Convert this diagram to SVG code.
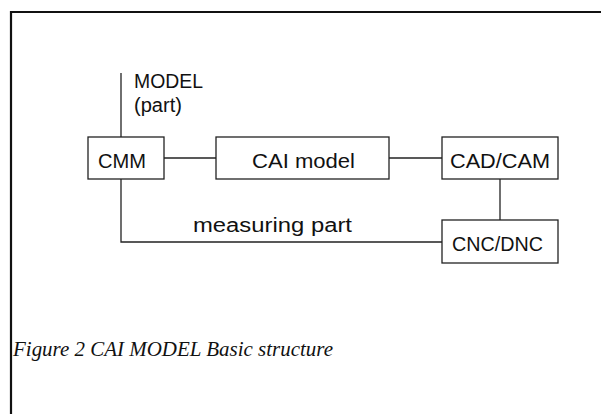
<svg xmlns="http://www.w3.org/2000/svg" width="601" height="414" viewBox="0 0 601 414">
<style>
.box{fill:#fff;stroke:#222;stroke-width:1.3}
.ln{fill:none;stroke:#222;stroke-width:1.3}
.t{font-family:"Liberation Sans",Arial,sans-serif;font-size:20px;fill:#111}
.cap{font-family:"Liberation Serif","Times New Roman",serif;font-style:italic;font-size:21px;fill:#111}
</style>
<rect width="601" height="414" fill="#fff"/>
<g id="frame">
<line x1="11" y1="12" x2="601" y2="12" stroke="#111" stroke-width="2.2"/>
<line x1="11" y1="11" x2="11" y2="414" stroke="#111" stroke-width="2.2"/>
</g>
<g id="connectors">
<line class="ln" x1="121" y1="73" x2="121" y2="137"/>
<line class="ln" x1="164" y1="158" x2="216" y2="158"/>
<line class="ln" x1="389" y1="158" x2="442" y2="158"/>
<line class="ln" x1="500" y1="179" x2="500" y2="220"/>
<polyline class="ln" points="121,179 121,242 442,242"/>
</g>
<g id="model-label">
<text class="t" x="134" y="88" textLength="69" lengthAdjust="spacingAndGlyphs">MODEL</text>
<text class="t" x="134" y="112" textLength="48" lengthAdjust="spacingAndGlyphs">(part)</text>
</g>
<g id="cmm">
<rect class="box" x="88" y="137" width="76" height="42"/>
<text class="t" x="98" y="168" textLength="48" lengthAdjust="spacingAndGlyphs">CMM</text>
</g>
<g id="cai-model">
<rect class="box" x="216" y="137" width="173" height="42"/>
<text class="t" x="252" y="168" textLength="103" lengthAdjust="spacingAndGlyphs">CAI model</text>
</g>
<g id="cad-cam">
<rect class="box" x="442" y="137" width="116" height="42"/>
<text class="t" x="450" y="168" textLength="100" lengthAdjust="spacingAndGlyphs">CAD/CAM</text>
</g>
<g id="cnc-dnc">
<rect class="box" x="442" y="220" width="116" height="43"/>
<text class="t" x="452" y="251" textLength="91" lengthAdjust="spacingAndGlyphs">CNC/DNC</text>
</g>
<g id="measuring-label">
<text class="t" x="193" y="232" textLength="159" lengthAdjust="spacingAndGlyphs">measuring part</text>
</g>
<g id="caption">
<text class="cap" x="13" y="356" textLength="320" lengthAdjust="spacingAndGlyphs">Figure 2 CAI MODEL Basic structure</text>
</g>
</svg>
